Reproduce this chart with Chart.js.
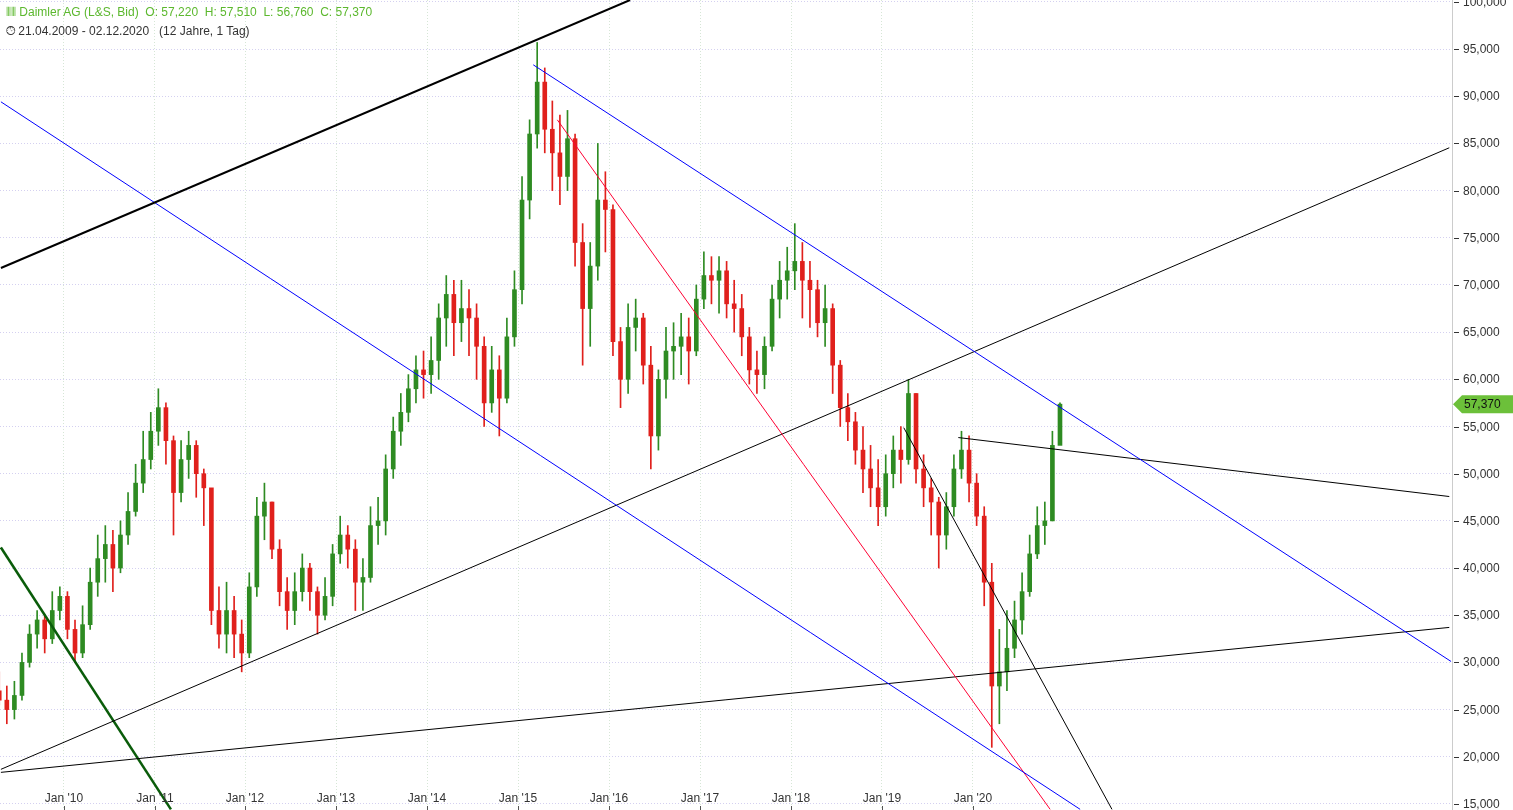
<!DOCTYPE html>
<html><head><meta charset="utf-8">
<script src="https://cdn.jsdelivr.net/npm/chart.js@4/dist/chart.umd.min.js"></script>
<style>
html,body{margin:0;padding:0;background:#fff;overflow:hidden}
#wrap{position:relative;width:1513px;height:810px}
#hdr{position:absolute;left:6px;top:3px;font:12px "Liberation Sans",Arial,sans-serif;line-height:19px;pointer-events:none}
#l1{color:#5cb82e}#l2{color:#333}
</style></head><body>
<div id="wrap"><canvas id="c" width="1513" height="810"></canvas>
<div id="hdr"><div id="l1">&#x2AF4;&#x2AF4; Daimler AG (L&amp;S, Bid)&nbsp;&nbsp;O: 57,220&nbsp;&nbsp;H: 57,510&nbsp;&nbsp;L: 56,760&nbsp;&nbsp;C: 57,370</div>
<div id="l2">&#x1F552;&#xFE0E; 21.04.2009 - 02.12.2020&nbsp;&nbsp;&nbsp;(12 Jahre, 1 Tag)</div></div></div>
<script>
const months=["2009-04","2009-05","2009-06","2009-07","2009-08","2009-09","2009-10","2009-11","2009-12",
"2010-01","2010-02","2010-03","2010-04","2010-05","2010-06","2010-07","2010-08","2010-09","2010-10","2010-11","2010-12",
"2011-01","2011-02","2011-03","2011-04","2011-05","2011-06","2011-07","2011-08","2011-09","2011-10","2011-11","2011-12",
"2012-01","2012-02","2012-03","2012-04","2012-05","2012-06","2012-07","2012-08","2012-09","2012-10","2012-11","2012-12",
"2013-01","2013-02","2013-03","2013-04","2013-05","2013-06","2013-07","2013-08","2013-09","2013-10","2013-11","2013-12",
"2014-01","2014-02","2014-03","2014-04","2014-05","2014-06","2014-07","2014-08","2014-09","2014-10","2014-11","2014-12",
"2015-01","2015-02","2015-03","2015-04","2015-05","2015-06","2015-07","2015-08","2015-09","2015-10","2015-11","2015-12",
"2016-01","2016-02","2016-03","2016-04","2016-05","2016-06","2016-07","2016-08","2016-09","2016-10","2016-11","2016-12",
"2017-01","2017-02","2017-03","2017-04","2017-05","2017-06","2017-07","2017-08","2017-09","2017-10","2017-11","2017-12",
"2018-01","2018-02","2018-03","2018-04","2018-05","2018-06","2018-07","2018-08","2018-09","2018-10","2018-11","2018-12",
"2019-01","2019-02","2019-03","2019-04","2019-05","2019-06","2019-07","2019-08","2019-09","2019-10","2019-11","2019-12",
"2020-01","2020-02","2020-03","2020-04","2020-05","2020-06","2020-07","2020-08","2020-09","2020-10","2020-11","2020-12"];
const closes=[26000,25000,26500,30000,33000,34500,32500,35500,37000,
33500,31000,34000,38500,41000,42500,40000,43500,46000,49000,51500,54500,
57000,53500,48000,51500,53000,50000,48500,35500,33000,35500,33000,31000,
38000,45500,47000,42000,37500,35500,37500,40000,37500,35000,37000,41500,
43500,42000,38500,39000,44500,45000,50500,54500,56500,59000,61000,60500,
62000,66500,69000,66000,67500,66500,63500,57500,61000,58000,64500,69500,
79000,86000,91500,86500,84000,81500,85500,74500,67500,72000,79000,78000,
64000,60000,65500,66500,61500,54000,60000,63000,63500,64500,63000,68500,
71000,70500,71500,68000,67500,64500,61000,60500,63500,68500,70500,71500,
72500,70500,69500,66000,67500,61500,57000,55500,52500,50500,48500,46500,
50000,52500,51500,58500,50500,48500,47000,43500,46500,50500,52500,49000,
45500,38500,27500,29000,31500,34500,37500,41500,44500,45000,53000,57370];
const highs=[29000,27500,28000,31000,34000,35500,35000,37500,38000,
37500,34500,36000,40000,43500,44500,44000,45000,48000,51000,54500,56500,
59000,57500,54000,53500,54500,53500,50500,48000,38000,38500,37000,34500,
39500,47500,49000,47000,43000,39000,39500,41500,40500,38000,39000,42500,
45500,44500,43000,41000,46500,47500,52000,56000,58500,60500,62500,63000,
64500,68000,71000,70500,70500,69500,68000,64500,63500,62500,66500,71500,
81500,87500,95700,93000,89500,88000,88500,86000,76500,74500,85000,82000,
78500,65500,68000,68500,67000,63500,61000,65500,66000,67000,66500,70000,
73500,73000,73000,72500,70500,69000,65500,63000,64500,70000,72500,74000,
76500,74500,72500,70500,70000,68000,62000,58500,56500,55000,53000,51500,
52000,54000,55000,60000,58500,52000,49500,47500,48000,52000,54500,54000,
50000,46500,40500,33500,35500,36500,39500,43500,46500,47000,54500,57510];
const lows=[25500,23500,24000,26000,29500,31500,31000,32000,34500,
32500,30000,30500,33500,37000,38500,37500,39500,42500,45500,48000,50500,
53000,51000,43500,47000,49500,47500,44500,34000,31500,31000,30500,29000,
30500,37000,43000,41000,36000,33500,34000,36500,35500,33000,34500,36000,
40500,40000,35500,35500,38500,42500,43500,49500,53000,55500,57500,58000,
58500,60000,63500,62500,64000,62500,60000,55000,56500,54000,57500,63500,
68000,77000,84500,84000,80000,78500,80000,72000,61500,63500,70500,73500,
62500,57000,58500,63000,59500,50500,52500,58000,60000,60500,59500,62500,
67500,68000,67000,66500,65000,62500,59500,58500,59000,63000,66500,68500,
69500,66500,65500,64500,63500,58500,55000,53500,51000,48000,46500,44500,
45500,48500,49000,51000,49000,46500,43500,40000,42000,45500,49500,47000,
44500,36000,21000,23500,27000,30500,33000,37000,41000,42500,45000,56760];
const firstOpen=27000;
const yearTicks=[2010,2011,2012,2013,2014,2015,2016,2017,2018,2019,2020];
const tickLabels=["Jan '10","Jan '11","Jan '12","Jan '13","Jan '14","Jan '15","Jan '16","Jan '17","Jan '18","Jan '19","Jan '20"];
const priceTicks=[15000,20000,25000,30000,35000,40000,45000,50000,55000,60000,65000,70000,75000,80000,85000,90000,95000,100000];
const lastPrice=57370, lastLabel="57,370";
// trend lines: [x1,y1,x2,y2,color,width]
const trendLines=[
 [2009.31,71800,2016.23,100200,'#000000',2],
 [2015.165,93330,2025.26,30100,'#0000ff',1],
 [2009.31,89410,2021.18,14430,'#0000ff',1],
 [2015.43,87500,2020.85,14430,'#ff0033',1],
 [2009.31,18670,2025.24,84540,'#000000',1],
 [2009.31,18350,2025.24,33710,'#000000',1],
 [2019.84,53830,2025.24,47580,'#000000',1],
 [2019.24,54880,2021.53,14430,'#000000',1],
 [2009.31,42180,2011.18,14430,'#0a5c0a',2.5]
];
const xs=months.map(m=>{const[y,mo]=m.split('-').map(Number);return y+(mo-0.5)/12;});
const opens=closes.map((c,i)=>i===0?firstOpen:closes[i-1]);
const up=i=>closes[i]>=opens[i];
const GREEN='#2e8b22',RED='#e0201c';
const wick=xs.map((x,i)=>({x,y:[lows[i],highs[i]]}));
const body=xs.map((x,i)=>({x,y:[Math.min(opens[i],closes[i]),Math.max(opens[i],closes[i])+(opens[i]===closes[i]?60:0)]}));
const datasets=[
 {type:'bar',data:wick,barThickness:1,grouped:false,backgroundColor:c=>up(c.dataIndex)?GREEN:RED,order:2},
 {type:'bar',data:body,barThickness:4,grouped:false,backgroundColor:c=>up(c.dataIndex)?GREEN:RED,order:1}
];
trendLines.forEach(t=>datasets.push({type:'line',data:[{x:t[0],y:t[1]},{x:t[2],y:t[3]}],borderColor:t[4],borderWidth:t[5],pointRadius:0,order:0}));
const extra={id:'extra',afterDraw(ch){
 const c=ch.ctx,xsS=ch.scales.x,ysS=ch.scales.y,ca=ch.chartArea;
 c.save();c.font='12px "Liberation Sans",Arial,sans-serif';c.textBaseline='middle';
 c.textAlign='center';
 yearTicks.forEach((yr,i)=>{const px=Math.round(xsS.getPixelForValue(yr));c.fillStyle='#333';c.fillText(tickLabels[i],px,799);c.fillStyle='#555';c.fillRect(px,806,1,4);});
 c.textAlign='left';
 priceTicks.forEach(v=>{const py=Math.round(ysS.getPixelForValue(v));c.fillStyle='#333';c.fillRect(ca.right+2,py,5,1);c.fillText(v.toLocaleString('en-US'),ca.right+11,py+1);});
 const py=ysS.getPixelForValue(lastPrice);c.fillStyle='#6cc03a';c.beginPath();c.moveTo(ca.right+1,py);c.lineTo(ca.right+10,py-9);c.lineTo(1513,py-9);c.lineTo(1513,py+9);c.lineTo(ca.right+10,py+9);c.closePath();c.fill();
 c.fillStyle='#111';c.fillText(lastLabel,ca.right+12,py+1);
 c.restore();}};
new Chart(document.getElementById('c'),{data:{datasets},plugins:[extra],options:{responsive:false,animation:false,
 layout:{padding:0},plugins:{legend:{display:false},tooltip:{enabled:false}},
 scales:{
  x:{type:'linear',offset:false,min:2009.30,max:2025.27,afterBuildTicks:s=>{s.ticks=yearTicks.map(v=>({value:v}));},
     ticks:{display:false},grid:{color:'#d6e6d6',drawTicks:false,offset:false},border:{display:false,dash:[1,2]}},
  y:{position:'right',min:14360,max:100200,afterBuildTicks:s=>{s.ticks=priceTicks.map(v=>({value:v}));},
     afterFit:s=>{s.width=61;},
     ticks:{display:false},
     grid:{color:'#d4d0f0',drawTicks:false},border:{color:'#ccc',dash:[1,2]}}
 }}});
</script></body></html>
